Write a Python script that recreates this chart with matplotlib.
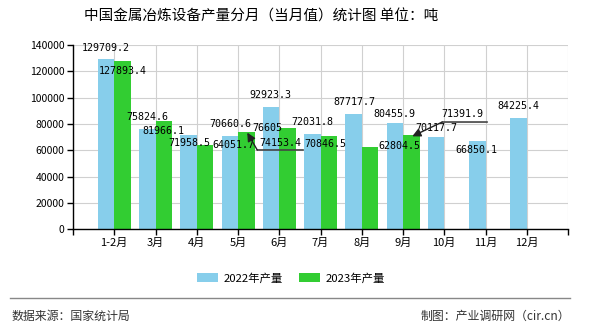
import matplotlib
matplotlib.use("Agg")
import matplotlib.pyplot as plt
from matplotlib.transforms import ScaledTranslation
import numpy as np

plt.rcParams['font.family'] = ['Noto Sans CJK SC', 'DejaVu Sans']

title = "中国金属冶炼设备产量分月（当月值）统计图 单位：吨"
categories = ["1-2月", "3月", "4月", "5月", "6月", "7月", "8月", "9月", "10月", "11月", "12月"]
series_names = ["2022年产量", "2023年产量"]
values_2022 = [129709.2, 75824.6, 71958.5, 70660.6, 92923.3, 72031.8, 87717.7, 80455.9, 70117.7, 66850.1, 84225.4]
values_2023 = [127893.4, 81966.1, 64051.7, 74153.4, 76605, 70846.5, 62804.5, 71391.9]
yticks = [0, 20000, 40000, 60000, 80000, 100000, 120000, 140000]
source_left = "数据来源：国家统计局"
source_right = "制图：产业调研网（cir.cn）"

colors = ["#87CEEB", "#32CD32"]

# label offsets in pixels (dx right, dy up) relative to bar top
off_2022 = [(0, 11), (0, 12.5), (0.5, -8.4), (0.5, 12.3), (-0.5, 12), (0, 12.5),
            (0.5, 11.8), (0, 9.4), (0, 9), (-1, -8.7), (0, 12.4)]
off_2023 = [(0.7, -9.8), (-0.5, -9.3), (28, 0), (34, -11.3), (-20, 0.5), (-3.5, -8),
            (29, 0.5), (51, 21.3)]
# leader lines: index in 2023 series -> (underline left, underline right) offsets in px
leaders = {3: ((11, -18.3), (57, -18.3)), 7: ((31, 13.3), (76, 13.3))}


def fmt(v):
    s = f"{v:.1f}"
    if s.endswith(".0"):
        s = s[:-2]
    return s


fig = plt.figure(figsize=(5.9, 3.3), dpi=100)
ax = fig.add_axes([73 / 590, (330 - 229.3) / 330, (568 - 73) / 590, (229.3 - 45) / 330])

x = np.arange(len(categories))
w = 0.4
b1 = ax.bar(x - w / 2, values_2022, width=w, color=colors[0], label=series_names[0], zorder=2)
x2 = np.arange(len(values_2023))
b2 = ax.bar(x2 + w / 2, values_2023, width=w, color=colors[1], label=series_names[1], zorder=2)

ax.set_xlim(-1, len(categories))
ax.set_ylim(0, 140000)
ax.set_yticks(yticks)
ax.set_yticklabels([str(v) for v in yticks], fontsize=7.5)
ax.set_xticks(np.arange(-1, len(categories) + 1))
ax.set_xticklabels([""] + categories + [""], fontsize=8)
ax.grid(True, color="#d0d0d0", lw=0.8, zorder=0)
ax.set_axisbelow(True)
for s in ["top", "right"]:
    ax.spines[s].set_visible(False)
for s in ["left", "bottom"]:
    ax.spines[s].set_color("black")
    ax.spines[s].set_linewidth(1)
ax.tick_params(axis="both", direction="out", length=4, width=1, color="black", pad=2)

mono = dict(family="DejaVu Sans Mono", fontsize=7.2, color="black")


def pxtrans(dx, dy):
    return ax.transData + ScaledTranslation(dx / 100, dy / 100, fig.dpi_scale_trans)


for i, v in enumerate(values_2022):
    xb = x[i] - w / 2
    dx, dy = off_2022[i]
    ax.text(xb, v, fmt(v), transform=pxtrans(dx, dy),
            ha="center", va="center", zorder=5, **mono)

for i, v in enumerate(values_2023):
    xb = x2[i] + w / 2
    dx, dy = off_2023[i]
    ax.text(xb, v, fmt(v), transform=pxtrans(dx, dy), ha="center", va="center", zorder=5, **mono)
    if i in leaders:
        (lx, ly), (rx, ry) = leaders[i]
        ax.annotate("", xy=(xb, v), xycoords=pxtrans(rx, ry), xytext=(xb, v),
                    textcoords=pxtrans(lx, ly),
                    arrowprops=dict(arrowstyle="-", color="#444444", lw=1.2,
                                    shrinkA=0, shrinkB=0), zorder=5)
        ax.annotate("", xy=(xb, v), xycoords=pxtrans(1, -1), xytext=(xb, v),
                    textcoords=pxtrans(lx, ly),
                    arrowprops=dict(arrowstyle="-|>,head_length=0.5,head_width=0.25",
                                    color="#222222", lw=1.0, shrinkA=0, shrinkB=0), zorder=5)

fig.text(261 / 590, 1 - 17 / 330, title, ha="center", va="center", fontsize=10.5, color="black")

fig.legend(handles=[b1, b2], labels=series_names, loc="center",
           bbox_to_anchor=(291 / 590, 1 - 278 / 330), ncol=2, frameon=False,
           fontsize=8.2, handlelength=1.85, handleheight=0.9, handletextpad=0.5,
           columnspacing=1.4)

fig.add_artist(plt.Line2D([10 / 590, 570 / 590], [1 - 298 / 330, 1 - 298 / 330],
                          color="#888888", lw=1))
fig.text(12 / 590, 1 - 316 / 330, source_left, ha="left", va="center", fontsize=8.6, color="#333333")
fig.text(570 / 590, 1 - 316 / 330, source_right, ha="right", va="center", fontsize=8.6, color="#333333")

fig.savefig("out.png", dpi=100)
